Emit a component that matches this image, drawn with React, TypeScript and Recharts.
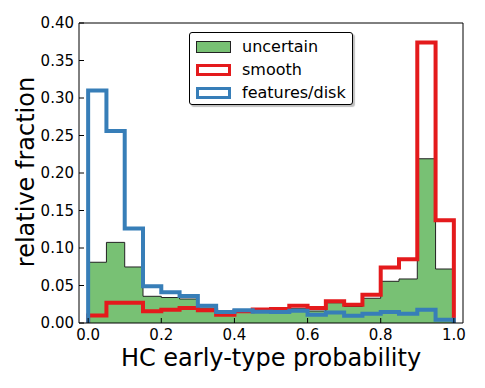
import React from 'react';
import {
  ComposedChart,
  Area,
  Line,
  XAxis,
  YAxis,
  Legend,
} from 'recharts';

// left edges of the 20 histogram bins (width 0.05)
const binStart = [
  0.0, 0.05, 0.1, 0.15, 0.2, 0.25, 0.3, 0.35, 0.4, 0.45,
  0.5, 0.55, 0.6, 0.65, 0.7, 0.75, 0.8, 0.85, 0.9, 0.95,
];
const binEnd = 1.0;

const uncertain = [
  0.081, 0.1075, 0.0747, 0.0356, 0.034, 0.032, 0.02, 0.0147, 0.017, 0.017,
  0.019, 0.019, 0.016, 0.027, 0.022, 0.033, 0.0556, 0.0587, 0.219, 0.072,
];
const smooth = [
  0.01, 0.027, 0.027, 0.0156, 0.0177, 0.02, 0.017, 0.011, 0.0156, 0.018,
  0.0187, 0.023, 0.02, 0.029, 0.0244, 0.0377, 0.074, 0.085, 0.374, 0.137,
];
const features = [
  0.31, 0.256, 0.126, 0.049, 0.041, 0.036, 0.023, 0.0147, 0.017, 0.015,
  0.0147, 0.0164, 0.011, 0.014, 0.0097, 0.0124, 0.0147, 0.0124, 0.0177, 0.0044,
];

const xTicks = [0.0, 0.2, 0.4, 0.6, 0.8, 1.0];
const yTicks = [0.0, 0.05, 0.1, 0.15, 0.2, 0.25, 0.3, 0.35, 0.4];

const GREEN = '#78c174';
const RED = '#e41a1c';
const BLUE = '#377eb8';
const FONT = '"DejaVu Sans", sans-serif';

// step outline: rise from 0 at the first edge, drop back to 0 at the last edge
const last = binStart.length - 1;
const rows = [
  { x: binStart[0], u: 0, s: 0, f: 0 },
  ...binStart.map((x, i) => ({ x, u: uncertain[i], s: smooth[i], f: features[i] })),
  { x: binEnd, u: uncertain[last], s: smooth[last], f: features[last] },
  { x: binEnd, u: 0, s: 0, f: 0 },
];

const legendItems = [
  { name: 'uncertain', kind: 'fill', color: GREEN },
  { name: 'smooth', kind: 'step', color: RED },
  { name: 'features/disk', kind: 'step', color: BLUE },
];

const LegendBox = () => (
  <div
    style={{
      width: 164,
      height: 73,
      border: '1px solid #000',
      borderRadius: 3,
      background: '#fff',
      boxShadow: '2px 2px 1px rgba(0,0,0,0.25)',
      fontFamily: FONT,
      fontSize: 16,
      padding: '2px 0 0 0',
      boxSizing: 'border-box',
    }}
  >
    {legendItems.map((it) => (
      <div
        key={it.name}
        style={{ display: 'flex', alignItems: 'center', height: 23, paddingLeft: 6 }}
      >
        <div
          style={{
            width: it.kind === 'fill' ? 33 : 29,
            height: it.kind === 'fill' ? 10 : 6,
            background: it.kind === 'fill' ? it.color : '#fff',
            border: it.kind === 'fill' ? '1px solid #222' : `3px solid ${it.color}`,
            marginRight: 11,
          }}
        />
        <span style={{ lineHeight: '16px' }}>{it.name}</span>
      </div>
    ))}
  </div>
);

const tickStyle = { fontSize: 15, fill: '#000', fontFamily: FONT };

export default function App() {
  return (
    <ComposedChart
      width={470}
      height={372}
      data={rows}
      margin={{ top: 14, right: 14, bottom: 0, left: 0 }}
      style={{ fontFamily: FONT }}
    >
      <XAxis
        dataKey="x"
        type="number"
        domain={[-0.025, 1.025]}
        ticks={xTicks}
        tickFormatter={(v: number) => v.toFixed(1)}
        height={57}
        tickSize={-5}
        tickMargin={11}
        tick={tickStyle}
        stroke="#000"
        interval={0}
        label={{
          value: 'HC early-type probability',
          position: 'insideBottom',
          offset: 14,
          style: { fontSize: 24, fill: '#000', fontFamily: FONT },
        }}
      />
      <XAxis
        xAxisId="top"
        dataKey="x"
        type="number"
        orientation="top"
        domain={[-0.025, 1.025]}
        ticks={xTicks}
        height={1}
        tickSize={-5}
        tick={false}
        stroke="#000"
        interval={0}
      />
      <YAxis
        type="number"
        domain={[0, 0.4]}
        ticks={yTicks}
        tickFormatter={(v: number) => v.toFixed(2)}
        width={71}
        tickSize={-5}
        tickMargin={10}
        tick={tickStyle}
        stroke="#000"
        interval={0}
        label={{
          content: () => (
            <text
              x={18}
              y={164}
              transform="rotate(-90 18 164)"
              textAnchor="middle"
              dominantBaseline="central"
              style={{ fontSize: 24, fill: '#000', fontFamily: FONT }}
            >
              relative fraction
            </text>
          ),
        }}
      />
      <YAxis
        yAxisId="right"
        type="number"
        orientation="right"
        domain={[0, 0.4]}
        ticks={yTicks}
        width={1}
        tickSize={-5}
        tick={false}
        stroke="#000"
        interval={0}
      />
      <Area
        type="stepAfter"
        dataKey="u"
        name="uncertain"
        fill={GREEN}
        fillOpacity={1}
        stroke="#222"
        strokeWidth={1}
        baseValue={0}
        dot={false}
        activeDot={false}
        isAnimationActive={false}
      />
      <Line
        type="stepAfter"
        dataKey="s"
        name="smooth"
        stroke={RED}
        strokeWidth={4}
        strokeLinejoin="miter"
        dot={false}
        activeDot={false}
        isAnimationActive={false}
      />
      <Line
        type="stepAfter"
        dataKey="f"
        name="features/disk"
        stroke={BLUE}
        strokeWidth={4}
        strokeLinejoin="miter"
        dot={false}
        activeDot={false}
        isAnimationActive={false}
      />
      <Legend
        layout="vertical"
        align="center"
        verticalAlign="middle"
        content={() => <LegendBox />}
        wrapperStyle={{ top: 24, left: 181, width: 'auto', height: 'auto' }}
      />
    </ComposedChart>
  );
}
